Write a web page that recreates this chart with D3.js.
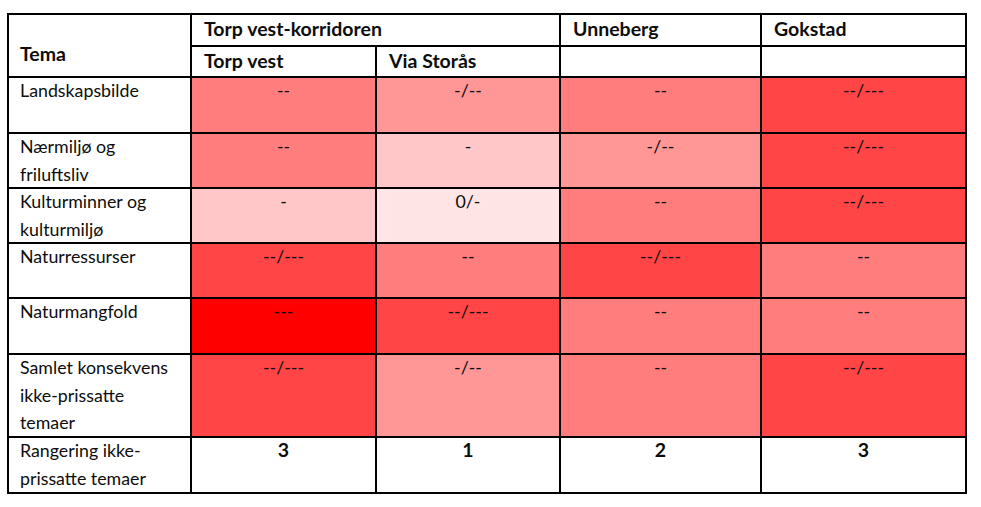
<!DOCTYPE html>
<html><head><meta charset="utf-8">
<script src="https://cdn.jsdelivr.net/npm/d3@7"></script>
<style>body{margin:0;background:#fff}svg{display:block}text{font-family:Lato,"Open Sans",sans-serif;fill:#0d0d0d}</style>
</head><body><svg id="c" width="981" height="507"></svg>
<script>
const groupHeaders = ["Torp vest-korridoren", "Unneberg", "Gokstad"];
const columns = ["Torp vest", "Via Storås", "Unneberg", "Gokstad"];
const subHeaders = ["Torp vest", "Via Storås", "", ""];
const themes = [
  ["Landskapsbilde"],
  ["Nærmiljø og", "friluftsliv"],
  ["Kulturminner og", "kulturmiljø"],
  ["Naturressurser"],
  ["Naturmangfold"],
  ["Samlet konsekvens", "ikke-prissatte", "temaer"]
];
const values = [
  ["--", "-/--", "--", "--/---"],
  ["--", "-", "-/--", "--/---"],
  ["-", "0/-", "--", "--/---"],
  ["--/---", "--", "--/---", "--"],
  ["---", "--/---", "--", "--"],
  ["--/---", "-/--", "--", "--/---"]
];
const rankLabel = ["Rangering ikke-", "prissatte temaer"];
const ranks = ["3", "1", "2", "3"];
const grades = ["0/-", "-", "-/--", "--", "--/---", "---"];
const gradeColors = ["#ffe5e5", "#ffc7c7", "#ff9797", "#ff7d7d", "#ff4545", "#ff0000"];

const svg = d3.select("#c");
const color = d3.scaleOrdinal().domain(grades).range(gradeColors);

// layout
const colEdges = [8, 191, 376, 560, 761, 966];
const rowEdges = [77, 133, 188, 243, 298, 354, 437, 493];
const headTop = 14, headMid = 46;
const x = d3.scaleOrdinal().domain(columns).range(colEdges.slice(1, 5));
const cw = c => colEdges[columns.indexOf(c) + 2] - x(c);

const fs = 17.8, fh = 19.5;
const cells = svg.append("g");
themes.forEach((t, i) => {
  const y0 = rowEdges[i], h = rowEdges[i + 1] - y0;
  columns.forEach((c, j) => {
    const v = values[i][j];
    cells.append("rect").attr("x", x(c)).attr("y", y0).attr("width", cw(c)).attr("height", h)
      .attr("fill", color(v));
    cells.append("text").attr("x", x(c) + cw(c) / 2).attr("y", y0 + 20)
      .attr("text-anchor", "middle").attr("font-size", fs).text(v);
  });
  t.forEach((line, k) => {
    cells.append("text").attr("x", colEdges[0] + 12).attr("y", y0 + 20 + k * 27.5)
      .attr("font-size", fs).text(line);
  });
});
{
  const i = themes.length, y0 = rowEdges[i];
  rankLabel.forEach((line, k) => cells.append("text").attr("x", colEdges[0] + 12)
    .attr("y", y0 + 20 + k * 27.5).attr("font-size", fs).text(line));
  columns.forEach((c, j) => cells.append("text").attr("x", x(c) + cw(c) / 2).attr("y", y0 + 20)
    .attr("text-anchor", "middle").attr("font-size", fh).attr("font-weight", 700).text(ranks[j]));
}
const hdr = svg.append("g");
hdr.append("text").attr("x", colEdges[0] + 12).attr("y", 61).attr("font-size", fh).attr("font-weight", 700).text("Tema");
const groupX = [colEdges[1], colEdges[3], colEdges[4]];
groupHeaders.forEach((g, k) => hdr.append("text").attr("x", groupX[k] + 13).attr("y", 36)
  .attr("font-size", fh).attr("font-weight", 700).text(g));
subHeaders.forEach((s, k) => hdr.append("text").attr("x", colEdges[k + 1] + 13).attr("y", 68)
  .attr("font-size", fh).attr("font-weight", 700).text(s));

const lines = svg.append("g").attr("stroke", "#000").attr("stroke-width", 2);
const L = (x1, y1, x2, y2) => lines.append("line").attr("x1", x1).attr("y1", y1).attr("x2", x2).attr("y2", y2);
const bottom = rowEdges[rowEdges.length - 1];
L(colEdges[0] - 1, headTop, colEdges[5] + 1, headTop);
L(colEdges[1], headMid, colEdges[5], headMid);
rowEdges.forEach(y => L(colEdges[0] - 1, y, colEdges[5] + 1, y));
L(colEdges[0], headTop, colEdges[0], bottom);
L(colEdges[1], headTop, colEdges[1], bottom);
L(colEdges[2], headMid, colEdges[2], bottom);
[3, 4, 5].forEach(k => L(colEdges[k], headTop, colEdges[k], bottom));
</script></body></html>
